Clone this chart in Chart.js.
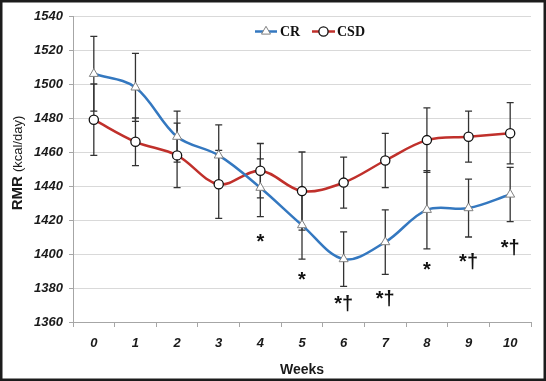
<!DOCTYPE html>
<html>
<head>
<meta charset="utf-8">
<script src="https://cdn.jsdelivr.net/npm/chart.js@4"></script>
<style>
  html, body { margin: 0; padding: 0; background: #ffffff; }
  #wrap { width: 546px; height: 381px; }
</style>
</head>
<body>
<div id="wrap"><canvas id="c" width="546" height="381"></canvas></div>
<script>
// ---- data ----
const weeks = ['0', '1', '2', '3', '4', '5', '6', '7', '8', '9', '10'];
const crMean  = [1506, 1498, 1469, 1458, 1439, 1417, 1397, 1407, 1426, 1427, 1435];
const crSD    = [22, 20, 15, 18, 17, 20, 16, 19, 23, 17, 16];
const csdMean = [1479, 1466, 1458, 1441, 1449, 1437, 1442, 1455, 1467, 1469, 1471];
const csdSD   = [21, 14, 19, 20, 16, 23, 15, 16, 19, 15, 18];
// significance marks and the value level at which each is printed
const sigText  = ['', '', '', '', '*', '*', '*\u2020', '*\u2020', '*', '*\u2020', '*\u2020'];
const sigLevel = [null, null, null, null, 1403.5, 1381, 1367, 1370, 1387, 1392, 1400];
const yMin = 1360, yMax = 1540, yStep = 20;
const seriesNames = ['CR', 'CSD'];

const BLUE = '#3478c0';
const RED = '#c0302b';

const errorBars = {
  id: 'errorBars',
  beforeDatasetsDraw(chart) {
    const ctx = chart.ctx;
    const ys = chart.scales.y;
    const sds = [crSD, csdSD];
    ctx.save();
    ctx.strokeStyle = '#333333';
    ctx.lineWidth = 1.3;
    chart.data.datasets.forEach((ds, di) => {
      const meta = chart.getDatasetMeta(di);
      meta.data.forEach((pt, i) => {
        const v = ds.data[i], e = sds[di][i];
        const x = pt.x;
        const yt = ys.getPixelForValue(v + e);
        const yb = ys.getPixelForValue(v - e);
        ctx.beginPath();
        ctx.moveTo(x, yt); ctx.lineTo(x, yb);
        ctx.moveTo(x - 3.5, yt); ctx.lineTo(x + 3.5, yt);
        ctx.moveTo(x - 3.5, yb); ctx.lineTo(x + 3.5, yb);
        ctx.stroke();
      });
    });
    ctx.restore();
  }
};

const extras = {
  id: 'extras',
  afterDraw(chart) {
    const ctx = chart.ctx;
    const xs = chart.scales.x, ys = chart.scales.y;
    ctx.save();
    // significance marks
    ctx.fillStyle = '#111111';
    ctx.font = 'bold 20px "Liberation Sans"';
    ctx.textAlign = 'center';
    ctx.textBaseline = 'alphabetic';
    sigText.forEach((t, i) => {
      if (!t) return;
      ctx.fillText(t, xs.getPixelForValue(i), ys.getPixelForValue(sigLevel[i]));
    });

    // legend
    const ly = 31.5;
    const dsets = chart.data.datasets;
    const items = [{x0: 255, x1: 277, tx: 280}, {x0: 312, x1: 335, tx: 337}];
    ctx.font = 'bold 14px "Liberation Serif"';
    ctx.textAlign = 'left';
    ctx.textBaseline = 'middle';
    items.forEach((it, k) => {
      const ds = dsets[k];
      ctx.strokeStyle = ds.borderColor;
      ctx.lineWidth = 2.5;
      ctx.beginPath(); ctx.moveTo(it.x0, ly); ctx.lineTo(it.x1, ly); ctx.stroke();
      ctx.fillStyle = ds.pointBackgroundColor;
      ctx.strokeStyle = ds.pointBorderColor;
      ctx.lineWidth = ds.pointBorderWidth;
      const cx = (it.x0 + it.x1) / 2, r = ds.pointRadius;
      ctx.beginPath();
      if (ds.pointStyle === 'circle') {
        ctx.arc(cx, ly, r, 0, Math.PI * 2);
      } else {
        ctx.moveTo(cx, ly - r);
        ctx.lineTo(cx + r * 0.866, ly + r * 0.5);
        ctx.lineTo(cx - r * 0.866, ly + r * 0.5);
        ctx.closePath();
      }
      ctx.fill(); ctx.stroke();
      ctx.fillStyle = '#111111';
      ctx.fillText(ds.label, it.tx, ly + 0.5);
    });

    // y axis title with mixed fonts
    const boldPart = 'RMR ';
    const normPart = '(kcal/day)';
    ctx.save();
    ctx.translate(18, 163);
    ctx.rotate(-Math.PI / 2);
    ctx.font = 'bold 15px "Liberation Sans"';
    const w1 = ctx.measureText(boldPart).width;
    ctx.font = '13px "Liberation Sans"';
    const w2 = ctx.measureText(normPart).width;
    let sx = -(w1 + w2) / 2;
    ctx.textAlign = 'left';
    ctx.textBaseline = 'middle';
    ctx.fillStyle = '#1a1a1a';
    ctx.font = 'bold 15px "Liberation Sans"';
    ctx.fillText(boldPart, sx, 0);
    ctx.font = '13px "Liberation Sans"';
    ctx.fillText(normPart, sx + w1, 0);
    ctx.restore();

    // outer frame
    ctx.strokeStyle = '#1c1c1c';
    ctx.lineWidth = 2.5;
    ctx.strokeRect(1.25, 1.25, chart.width - 2.5, chart.height - 2.5);
    ctx.restore();
  }
};

new Chart(document.getElementById('c'), {
  type: 'line',
  data: {
    labels: weeks,
    datasets: [
      {
        label: seriesNames[0], data: crMean,
        borderColor: BLUE, borderWidth: 2.5, tension: 0.35,
        pointStyle: 'triangle', pointRadius: 5.2, pointBorderWidth: 1,
        pointBackgroundColor: '#ffffff', pointBorderColor: '#808080'
      },
      {
        label: seriesNames[1], data: csdMean,
        borderColor: RED, borderWidth: 2.5, tension: 0.35,
        pointStyle: 'circle', pointRadius: 4.6, pointBorderWidth: 1.3,
        pointBackgroundColor: '#ffffff', pointBorderColor: '#111111'
      }
    ]
  },
  options: {
    responsive: false,
    animation: false,
    layout: { padding: { top: 16, right: 15, bottom: 0, left: 0 } },
    plugins: { legend: { display: false }, tooltip: { enabled: false } },
    scales: {
      x: {
        offset: true,
        grid: { display: true, drawOnChartArea: false, offset: true, tickLength: 5, color: '#a6a6a6' },
        border: { color: '#a6a6a6', width: 1 },
        ticks: { color: '#1a1a1a', padding: 9, font: { family: 'Liberation Sans', size: 13, weight: 'bold', style: 'italic' } },
        title: { display: true, text: 'Weeks', color: '#1a1a1a', padding: { top: 0, bottom: 2 },
                 font: { family: 'Liberation Sans', size: 14, weight: 'bold' } },
        afterFit(s) { s.height = 59; }
      },
      y: {
        min: yMin, max: yMax,
        grid: { color: '#d9d9d9', tickLength: 4, tickColor: '#a6a6a6' },
        border: { color: '#a6a6a6', width: 1 },
        ticks: { stepSize: yStep, color: '#1a1a1a', padding: 6,
                 callback: (v) => String(v),
                 font: { family: 'Liberation Sans', size: 13, weight: 'bold', style: 'italic' } },
        afterFit(s) { s.width = 73; }
      }
    }
  },
  plugins: [errorBars, extras]
});
</script>
</body>
</html>
